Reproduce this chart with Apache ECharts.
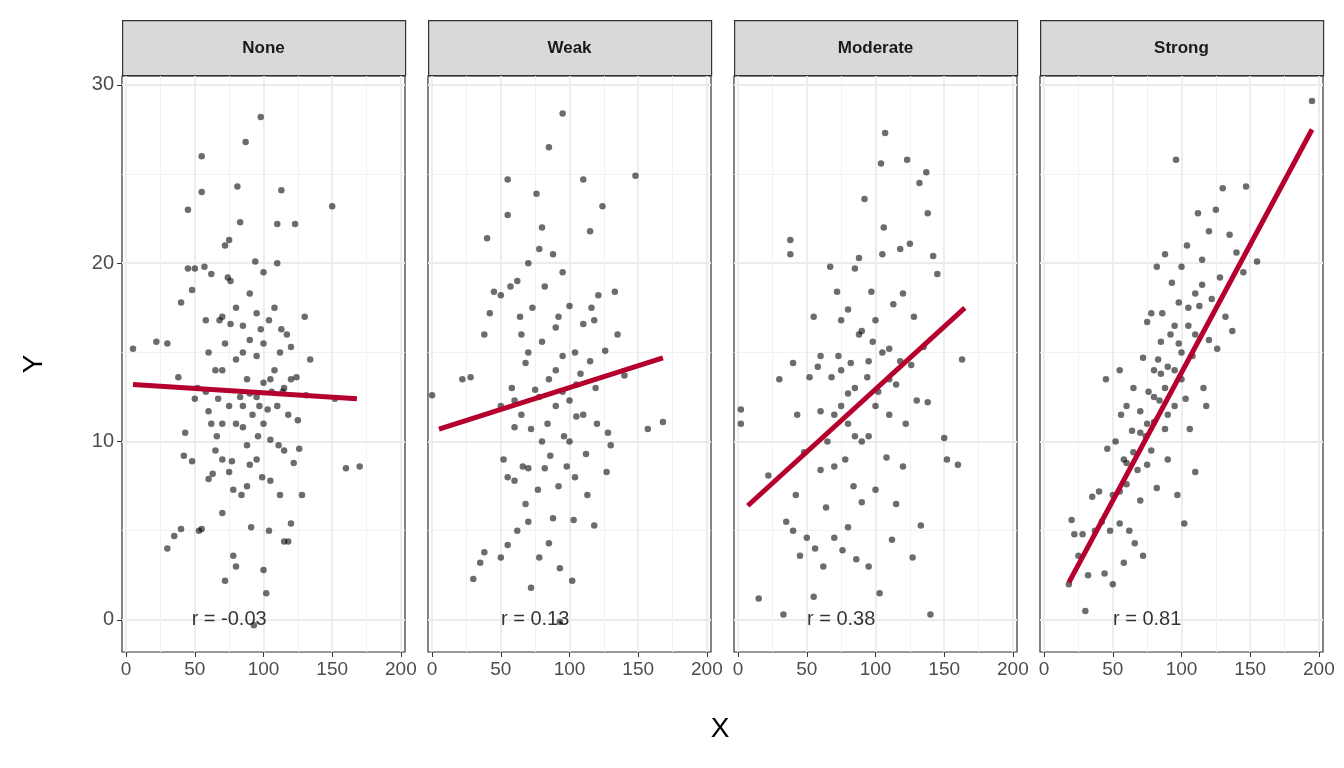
<!DOCTYPE html><html><head><meta charset="utf-8">
<script src="https://cdn.jsdelivr.net/npm/echarts@6/dist/echarts.min.js"></script>
<style>html,body{margin:0;padding:0;background:#fff}#c{width:1344px;height:768px}</style></head><body><div id="c"></div><script>
const panels=["None","Weak","Moderate","Strong"];
const rLabels=["r = -0.03","r = 0.13","r = 0.38","r = 0.81"];
const xTicks=[0,50,100,150,200];
const xMinor=[25,75,125,175];
const yTicks=[0,10,20,30];
const yMinor=[5,15,25];
const pNone=[[5,15.2],[22,15.6],[30,15.5],[30,4],[35,4.7],[38,13.6],[40,5.1],[40,17.8],[42,9.2],[43,10.5],[45,23],[45,19.7],[48,18.5],[48,8.9],[50,19.7],[50,12.4],[52,13],[53,5],[55,26],[55,24],[55,5.1],[57,19.8],[58,12.8],[60,11.7],[60,7.9],[62,19.4],[63,8.2],[65,9.5],[66,10.3],[67,12.4],[68,16.8],[70,17],[70,14],[70,11],[70,6],[72,21],[72,2.2],[74,19.2],[75,21.3],[76,19],[76,16.6],[77,8.9],[78,3.6],[78,7.3],[80,17.5],[80,14.6],[80,3],[81,24.3],[83,22.3],[83,12.5],[84,7],[85,15],[85,10.8],[87,26.8],[88,13.5],[88,9.8],[90,18.3],[90,15.7],[90,8.7],[91,5.2],[92,11.5],[93,-0.3],[94,20.1],[95,17.2],[95,14.8],[96,10.3],[97,12],[98,28.2],[98,16.3],[99,8],[100,19.5],[100,13.3],[100,2.8],[102,1.5],[103,11.8],[104,16.8],[104,5],[105,10.1],[106,12.8],[108,14],[110,22.2],[110,20],[111,9.8],[112,7],[113,24.1],[113,16.3],[114,12.8],[115,4.4],[117,16],[118,4.4],[118,11.5],[120,15.3],[120,5.4],[122,8.8],[123,22.2],[124,13.6],[125,11.2],[126,9.6],[128,7],[130,17],[131,12.6],[134,14.6],[150,23.2],[152,12.4],[160,8.5],[170,8.6],[60,15],[65,14],[75,12],[80,11],[85,12],[95,12.5],[100,11],[105,13.5],[110,12],[115,13],[90,12.7],[70,9],[75,8.3],[85,16.5],[100,15.5],[105,7.8],[115,9.5],[95,9],[120,13.5],[58,16.8],[62,11],[72,15.5],[88,7.5],[108,17.5],[112,15]];
const pWeak=[[0,12.6],[22,13.5],[28,13.6],[30,2.3],[35,3.2],[38,3.8],[38,16],[40,21.4],[42,17.2],[45,18.4],[50,18.2],[50,12],[50,3.5],[52,9],[55,24.7],[55,22.7],[55,4.2],[57,18.7],[58,13],[60,10.8],[60,7.8],[62,19],[64,17],[65,11.5],[66,8.6],[68,14.4],[70,20],[70,15],[70,8.5],[70,5.5],[72,1.8],[73,17.5],[75,12.9],[76,23.9],[77,7.3],[78,3.5],[78,20.8],[80,22],[80,15.6],[80,10],[82,18.7],[85,26.5],[85,13.5],[85,4.3],[86,9.2],[88,20.5],[90,16.4],[90,12],[92,7.5],[93,2.9],[95,28.4],[95,19.5],[95,14.8],[96,10.3],[98,8.6],[100,17.6],[100,12.3],[102,2.2],[103,5.6],[104,15],[105,11.4],[108,13.8],[110,24.7],[110,16.6],[112,9.3],[113,7],[115,21.8],[116,17.5],[118,5.3],[119,13],[120,11],[121,18.2],[124,23.2],[126,15.1],[127,8.3],[128,10.5],[130,9.8],[133,18.4],[135,16],[140,13.7],[148,24.9],[157,10.7],[168,11.1],[60,12.3],[65,16],[72,10.7],[78,12.5],[84,11],[90,14],[95,12.8],[100,10],[105,13.2],[110,11.5],[115,14.5],[82,8.5],[92,17],[104,8],[118,16.8],[68,6.5],[88,5.7],[55,8],[62,5],[93,-0.1]];
const pModerate=[[2,11.8],[2,11],[15,1.2],[22,8.1],[30,13.5],[33,0.3],[35,5.5],[38,20.5],[38,21.3],[40,14.4],[40,5],[42,7],[43,11.5],[45,3.6],[48,9.4],[50,4.6],[52,13.6],[55,17],[55,1.3],[56,4],[58,14.2],[60,11.7],[60,8.4],[62,3],[64,6.3],[65,10],[67,19.8],[68,13.6],[70,8.6],[70,4.6],[72,18.4],[73,14.8],[75,12],[75,16.8],[76,3.9],[78,9],[80,17.4],[80,11],[80,5.2],[82,14.4],[84,7.5],[85,19.7],[85,13],[86,3.4],[88,20.3],[88,16],[90,10],[90,6.6],[92,23.6],[94,13.6],[95,10.3],[95,3],[97,18.4],[98,15.6],[100,16.8],[100,7.3],[102,12.8],[103,1.5],[104,25.6],[105,20.5],[106,22],[107,27.3],[108,9.1],[110,15.2],[110,11.5],[112,4.5],[113,17.7],[115,13.2],[115,6.5],[118,20.8],[120,18.3],[120,8.6],[122,11],[123,25.8],[125,21.1],[126,14.3],[127,3.5],[128,17],[130,12.3],[132,24.5],[133,5.3],[135,15.3],[137,25.1],[138,22.8],[138,12.2],[140,0.3],[142,20.4],[145,19.4],[150,10.2],[152,9],[160,8.7],[163,14.6],[75,14],[85,10.3],[95,14.5],[100,12],[105,15],[110,13.5],[90,16.2],[80,12.7],[118,14.5],[70,11.5],[60,14.8]];
const pStrong=[[18,2],[20,5.6],[22,4.8],[25,3.6],[28,4.8],[30,0.5],[32,2.5],[35,6.9],[37,5],[40,7.2],[42,5.5],[44,2.6],[45,13.5],[46,9.6],[48,5],[50,7],[50,2],[52,10],[55,14],[55,5.4],[56,11.5],[58,9],[58,3.2],[60,12],[60,7.6],[62,5],[64,10.6],[65,13],[66,4.3],[68,8.4],[70,11.7],[70,6.7],[72,14.7],[72,3.6],[74,10.3],[75,16.7],[75,8.7],[76,12.8],[78,17.2],[78,9.5],[80,14],[80,11.1],[82,19.8],[82,7.4],[84,12.3],[85,15.6],[86,17.2],[88,13],[88,20.5],[90,11.5],[90,9],[92,16],[93,18.9],[95,14],[95,12],[96,25.8],[97,7],[98,17.8],[100,15],[100,19.8],[102,5.4],[103,12.4],[104,21],[105,16.5],[106,10.7],[108,14.8],[110,18.3],[110,8.3],[112,22.8],[113,17.6],[115,20.2],[116,13],[118,12],[120,21.8],[120,15.7],[122,18],[125,23],[126,15.2],[128,19.2],[130,24.2],[132,17],[135,21.6],[137,16.2],[140,20.6],[145,19.5],[147,24.3],[155,20.1],[195,29.1],[60,8.8],[70,10.5],[80,12.5],[85,13.8],[90,14.2],[95,16.5],[100,13.5],[105,17.5],[75,11],[65,9.4],[55,7.2],[110,16],[115,18.8],[88,10.7],[98,15.5],[83,14.6]];
const fitNone=[[5,13.2],[168,12.4]];
const fitWeak=[[5,10.7],[168,14.7]];
const fitModerate=[[7,6.4],[165,17.5]];
const fitStrong=[[18,2.1],[195,27.5]];
const points=[pNone,pWeak,pModerate,pStrong];
const fits=[fitNone,fitWeak,fitModerate,fitStrong];
const L=122,W=283,G=23,T=76,H=576;
const grids=[],xA=[],yA=[],series=[],graphics=[];
const font='Liberation Sans, Arial';
panels.forEach((p,i)=>{
 const left=L+i*(W+G);
 grids.push({left:left,top:T,width:W,height:H,show:true,borderColor:'#333',borderWidth:1.2,backgroundColor:'#fff'});
 // minor grid axes
 xA.push({type:'value',gridIndex:i,min:-3,max:203,position:'top',
  axisLine:{show:false},axisTick:{show:false,customValues:xMinor},axisLabel:{show:false,customValues:xMinor},
  splitLine:{show:true,lineStyle:{color:'#f2f2f2',width:1}}});
 yA.push({type:'value',gridIndex:i,min:-1.8,max:30.5,position:'right',
  axisLine:{show:false},axisTick:{show:false,customValues:yMinor},axisLabel:{show:false,customValues:yMinor},
  splitLine:{show:true,lineStyle:{color:'#f2f2f2',width:1}}});
 series.push({type:'scatter',xAxisIndex:2*i,yAxisIndex:2*i,data:[],silent:true});
 // major axes
 xA.push({type:'value',gridIndex:i,min:-3,max:203,position:'bottom',
  axisLine:{show:false,onZero:false},axisTick:{show:true,inside:false,length:5,lineStyle:{color:'#333'},customValues:xTicks},
  axisLabel:{color:'#4d4d4d',fontSize:19,fontFamily:font,customValues:xTicks,margin:8},
  splitLine:{show:true,lineStyle:{color:'#ebebeb',width:1.8}}});
 yA.push({type:'value',gridIndex:i,min:-1.8,max:30.5,position:'left',
  axisLine:{show:false,onZero:false},axisTick:{show:i===0,inside:false,length:5,lineStyle:{color:'#333'},customValues:yTicks},
  axisLabel:{show:i===0,color:'#4d4d4d',fontSize:20,fontFamily:font,customValues:yTicks},
  splitLine:{show:true,lineStyle:{color:'#ebebeb',width:1.8}}});
 const xi=2*i+1;
 series.push({type:'scatter',xAxisIndex:xi,yAxisIndex:xi,data:points[i],symbolSize:6.5,itemStyle:{color:'rgba(0,0,0,0.72)'},silent:true,z:2});
 series.push({type:'line',xAxisIndex:xi,yAxisIndex:xi,data:fits[i],symbol:'none',lineStyle:{color:'#b5002d',width:5},silent:true,z:3});
 series.push({type:'scatter',xAxisIndex:xi,yAxisIndex:xi,data:[[75,0]],symbolSize:0,silent:true,z:4,
  label:{show:true,position:'inside',formatter:rLabels[i],fontSize:20,color:'#000',fontFamily:font}});
 graphics.push({type:'rect',left:left,top:20,shape:{width:W,height:55},style:{fill:'#d9d9d9',stroke:'#333',lineWidth:1.2}});
 graphics.push({type:'text',left:left+W/2-35,top:38,style:{text:p,fill:'#1a1a1a',font:'bold 17px '+font,width:70,align:'center'},
  x:0});
});
// centre header texts properly
graphics.forEach(g=>{ if(g.type==='text'){ g.left=undefined; } });
const headerTexts=panels.map((p,i)=>({type:'text',x:L+i*(W+G)+W/2,y:48,style:{text:p,fill:'#1a1a1a',font:'bold 17px '+font,align:'center',verticalAlign:'middle'}}));
const finalGraphics=graphics.filter(g=>g.type!=='text').concat(headerTexts);
finalGraphics.push({type:'text',x:720,y:729,style:{text:'X',fill:'#000',font:'28px '+font,align:'center',verticalAlign:'middle'}});
finalGraphics.push({type:'text',x:34,y:364,rotation:Math.PI/2,style:{text:'Y',fill:'#000',font:'28px '+font,align:'center',verticalAlign:'middle'}});
const chart=echarts.init(document.getElementById('c'));
chart.setOption({animation:false,grid:grids,xAxis:xA,yAxis:yA,series:series,graphic:finalGraphics});
</script></body></html>
